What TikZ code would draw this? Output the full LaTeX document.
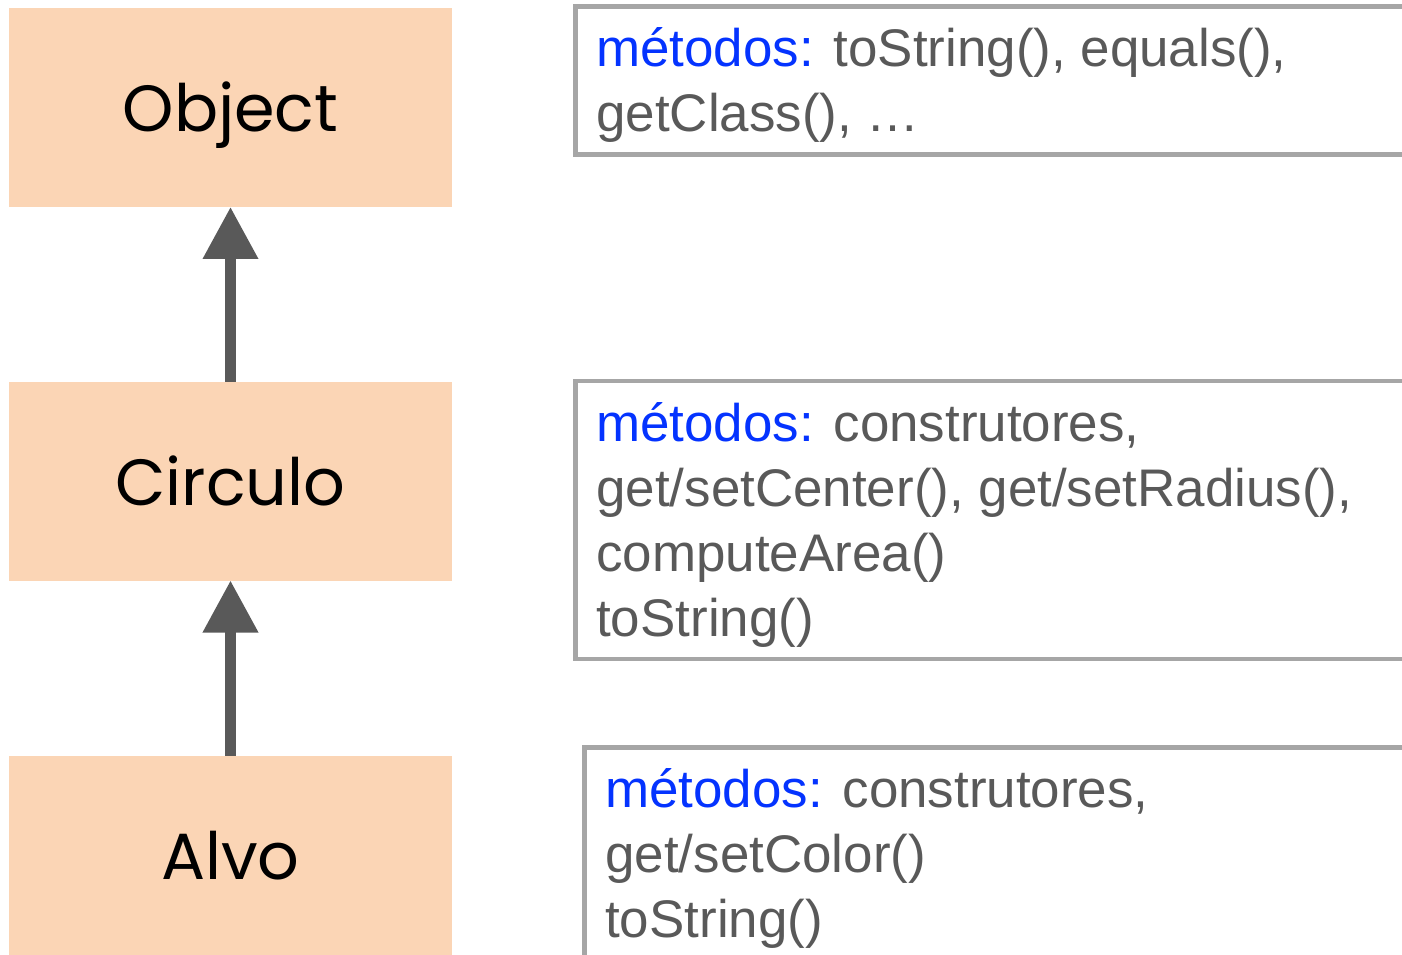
\documentclass[tikz,border=0pt]{standalone}
\usepackage{fontspec}
\setmainfont{Liberation Sans}
\newfontfamily\classfont{Poppins}
\usetikzlibrary{arrows.meta}
\definecolor{peach}{HTML}{FBD5B5}
\definecolor{arrowgray}{HTML}{595959}
\definecolor{txtgray}{HTML}{595959}
\definecolor{bordergray}{HTML}{A6A6A6}
\definecolor{methblue}{HTML}{0433FF}
\tikzset{
  classbox/.style={rectangle, fill=peach, draw=none, minimum width=332.25pt, minimum height=149.25pt,
    inner sep=0pt, outer sep=0pt, font=\classfont\fontsize{49pt}{60pt}\selectfont, text height=36.75pt, text depth=0pt},
  methbox/.style={rectangle, draw=bordergray, line width=3.6pt, anchor=north west, inner sep=0pt, outer sep=0pt},
  methtext/.style={anchor=base west, inner sep=0pt, align=left, text=txtgray,
    font=\fontsize{39.7pt}{48.75pt}\selectfont},
  inh/.style={draw=arrowgray, line width=7.8pt, -{Triangle[width=39.75pt, length=39pt]}},
}
\newcommand{\mkw}{\textcolor{methblue}{métodos:}}
\begin{document}
\begin{tikzpicture}[x=0.75pt, y=-0.75pt]
\useasboundingbox (0,0) rectangle (1402,955);
\clip (0,0) rectangle (1402,955);
% class boxes
\node[classbox] (obj) at (230.5,107.5) {Object};
\node[classbox] (circ) at (230.5,481) {Circulo};
\node[classbox] (alvo) at (230.5,855) {Alvo};
% inheritance arrows
\draw[inh] (circ.north) -- (obj.south);
\draw[inh] (alvo.north) -- (circ.south);
% method boxes
\node[methbox, minimum width=675pt, minimum height=111pt] (m1) at (575.5,6.5) {};
\node[methbox, minimum width=675pt, minimum height=208.5pt] (m2) at (575.5,381) {};
\node[methbox, minimum width=675pt, minimum height=225pt] (m3) at (584.5,747.5) {};
% method texts (base anchor = baseline of the last line)
\node[methtext] (t1) at (596,132) {\mkw{} toString(), equals(),\\getClass(), …};
\node[methtext] (t2) at (596,636) {\mkw{} construtores,\\get/setCenter(), get/setRadius(),\\computeArea()\\toString()};
\node[methtext] (t3) at (605,937) {\mkw{} construtores,\\get/setColor()\\toString()};
\end{tikzpicture}
\end{document}
